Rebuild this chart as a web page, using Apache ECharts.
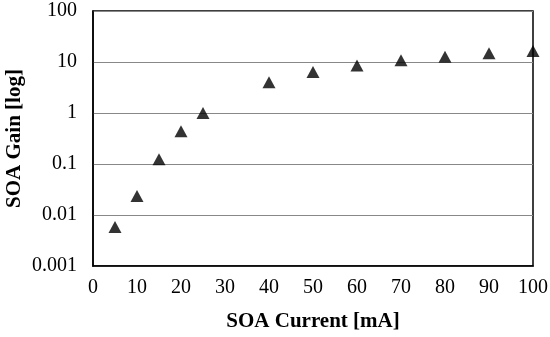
<!DOCTYPE html>
<html><head><meta charset="utf-8">
<script src="https://cdn.jsdelivr.net/npm/echarts@6/dist/echarts.min.js"></script>
<style>html,body{margin:0;padding:0;background:#fff}#c{width:550px;height:337px}</style>
</head><body><div id="c"></div>
<script>
var currents = [5, 10, 15, 20, 25, 40, 50, 60, 70, 80, 90, 100];
var gains = [0.0058, 0.0236, 0.124, 0.44, 1.0, 4.0, 6.4, 8.5, 10.8, 12.7, 14.8, 16.4];
var xTitle = 'SOA Current [mA]';
var yTitle = 'SOA Gain [log]';

var chart = echarts.init(document.getElementById('c'), null, {renderer: 'canvas'});
var font = 'Liberation Serif';
chart.setOption({
  animation: false,
  backgroundColor: '#fff',
  grid: {left: 93, right: 17, top: 11, bottom: 71, show: true, borderColor: '#000', borderWidth: 1.5,
    backgroundColor: 'transparent', containLabel: false, outerBoundsMode: 'none'},
  xAxis: {
    type: 'value', min: 0, max: 100, interval: 10,
    name: xTitle, nameLocation: 'middle', nameGap: 45, nameMoveOverlap: false,
    nameTextStyle: {fontFamily: font, fontSize: 21, fontWeight: 'bold', color: '#000'},
    axisLine: {show: true, lineStyle: {color: '#000', width: 1.5}},
    axisTick: {show: false},
    axisLabel: {fontFamily: font, fontSize: 20, color: '#000', margin: 12},
    splitLine: {show: false}
  },
  yAxis: {
    type: 'log', logBase: 10, min: 0.001, max: 100,
    name: yTitle, nameLocation: 'middle', nameGap: 68, nameMoveOverlap: false,
    nameTextStyle: {fontFamily: font, fontSize: 21, fontWeight: 'bold', color: '#000'},
    axisLine: {show: true, lineStyle: {color: '#000', width: 1.5}},
    axisTick: {show: false},
    axisLabel: {fontFamily: font, fontSize: 20, color: '#000', margin: 16,
      formatter: function (v) { return String(+(+v).toPrecision(6)); }},
    splitLine: {show: true, lineStyle: {color: '#888', width: 1}}
  },
  series: [{
    type: 'scatter',
    data: currents.map(function (c, i) { return [c, gains[i]]; }),
    symbol: 'triangle', symbolSize: [13, 12],
    itemStyle: {color: '#000'},
    clip: false
  }]
});
</script></body></html>
